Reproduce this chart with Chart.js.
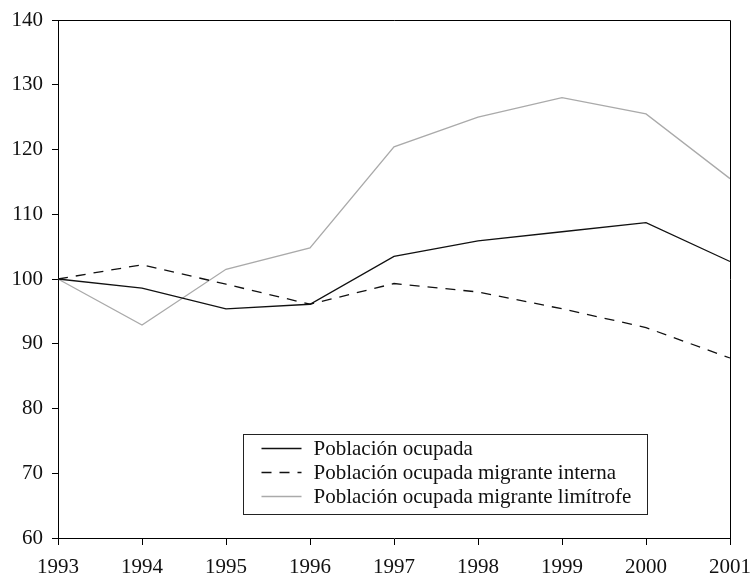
<!DOCTYPE html>
<html>
<head>
<meta charset="utf-8">
<script src="https://cdn.jsdelivr.net/npm/chart.js@4/dist/chart.umd.min.js"></script>
<style>
  html, body { margin: 0; padding: 0; background: #fff; }
  #wrap { position: relative; width: 751px; height: 576px; }
</style>
</head>
<body>
<div id="wrap"><canvas id="chart" width="751" height="576"></canvas></div>
<script>
const years = ["1993", "1994", "1995", "1996", "1997", "1998", "1999", "2000", "2001"];
const ocupada = [100, 98.6, 95.4, 96.1, 103.5, 105.9, 107.3, 108.7, 102.7];
const migranteInterna = [100, 102.2, 99.2, 96.1, 99.3, 98.0, 95.4, 92.5, 87.8];
const migranteLimitrofe = [100, 92.9, 101.5, 104.8, 120.4, 125.0, 128.0, 125.5, 115.5];
const seriesNames = [
  "Población ocupada",
  "Población ocupada migrante interna",
  "Población ocupada migrante limítrofe"
];

const FONT = "'Liberation Serif', 'Times New Roman', serif";

// frame on top and right, plus the boxed legend inside the plot
const framePlugin = {
  id: "frame",
  afterDraw(chart) {
    const { ctx, chartArea: a } = chart;
    ctx.save();
    ctx.strokeStyle = "#000";
    ctx.lineWidth = 1;
    ctx.beginPath();
    ctx.moveTo(a.left, a.top + 0.5);
    ctx.lineTo(a.right + 0.5, a.top + 0.5);
    ctx.lineTo(a.right + 0.5, a.bottom);
    ctx.stroke();

    // legend box
    const bx = 243.5, by = 434.5, bw = 404, bh = 80;
    ctx.strokeStyle = "#222";
    ctx.strokeRect(bx, by, bw, bh);
    ctx.font = "21px " + FONT;
    ctx.textBaseline = "middle";
    ctx.fillStyle = "#111";
    chart.data.datasets.forEach((ds, i) => {
      const y = by + 14 + i * 24;
      ctx.beginPath();
      ctx.strokeStyle = ds.borderColor;
      ctx.lineWidth = ds.borderWidth;
      ctx.setLineDash(ds.borderDash || []);
      ctx.moveTo(bx + 18, y);
      ctx.lineTo(bx + 58, y);
      ctx.stroke();
      ctx.setLineDash([]);
      ctx.fillText(ds.label, bx + 70, y + 1);
    });
    ctx.restore();
  }
};

new Chart(document.getElementById("chart"), {
  type: "line",
  data: {
    labels: years,
    datasets: [
      {
        label: seriesNames[0],
        data: ocupada,
        borderColor: "#111",
        borderWidth: 1.3
      },
      {
        label: seriesNames[1],
        data: migranteInterna,
        borderColor: "#111",
        borderWidth: 1.3,
        borderDash: [10, 8]
      },
      {
        label: seriesNames[2],
        data: migranteLimitrofe,
        borderColor: "#aaa",
        borderWidth: 1.3
      }
    ]
  },
  options: {
    responsive: false,
    animation: false,
    layout: { padding: { top: 20, right: 21, left: 0, bottom: 0 } },
    elements: { point: { radius: 0 }, line: { tension: 0 } },
    plugins: {
      legend: { display: false },
      tooltip: { enabled: false }
    },
    scales: {
      x: {
        offset: false,
        grid: { drawOnChartArea: false, tickLength: 7, color: "#000" },
        border: { color: "#000", width: 1 },
        ticks: {
          color: "#111",
          font: { family: FONT, size: 21 },
          padding: 10,
          maxRotation: 0,
          autoSkip: false
        },
        afterFit(scale) {
          scale.height = 38;
          scale.paddingLeft = 0;
          scale.paddingRight = 0;
        }
      },
      y: {
        min: 60,
        max: 140,
        grid: { drawOnChartArea: false, tickLength: 6, color: "#000" },
        border: { color: "#000", width: 1 },
        ticks: {
          stepSize: 10,
          color: "#111",
          font: { family: FONT, size: 21 },
          padding: 9
        },
        afterFit(scale) {
          scale.width = 58;
          scale.paddingTop = 0;
          scale.paddingBottom = 0;
        }
      }
    }
  },
  plugins: [framePlugin]
});
</script>
</body>
</html>
